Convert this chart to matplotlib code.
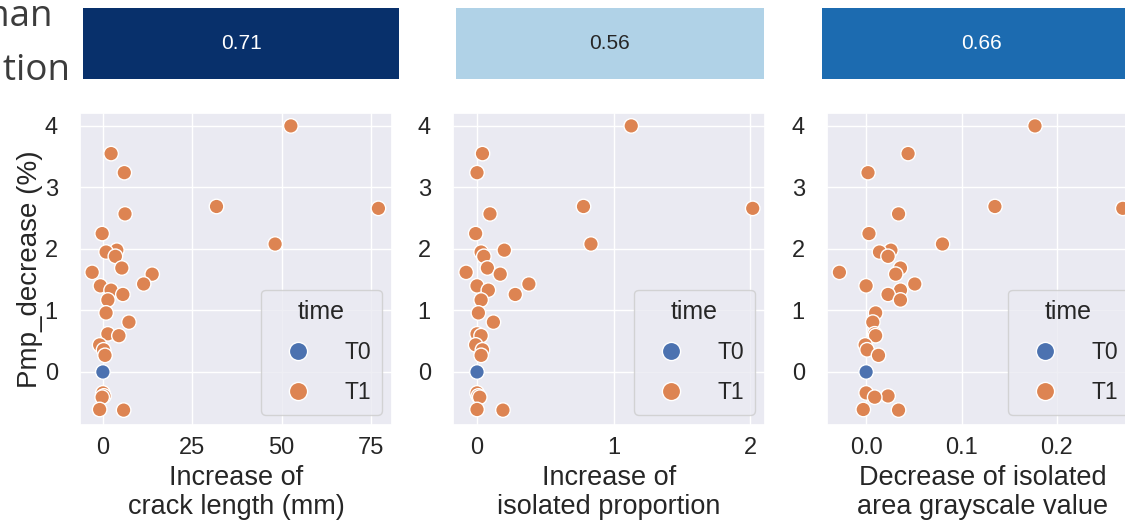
import matplotlib
matplotlib.use("Agg")
import matplotlib.pyplot as plt
import pandas as pd
import seaborn as sns

# Power loss of every module; the first entry is the T0 reference module
pmp_decrease = [0.00, 4.00, 3.55, 3.24, 2.69, 2.66, 2.57, 2.25, 2.08, 1.98, 1.95,
                1.88, 1.69, 1.62, 1.59, 1.43, 1.40, 1.33, 1.26, 1.17, 0.96, 0.81,
                0.62, 0.59, 0.44, 0.36, 0.27, -0.34, -0.39, -0.41, -0.61, -0.62]
crack_length = [0.0, 52.6, 2.3, 6.0, 31.8, 77.1, 6.2, -0.2, 48.2, 3.9, 0.9,
                3.5, 5.3, -3.0, 13.8, 11.4, -0.7, 2.3, 5.6, 1.4, 0.9, 7.3,
                1.4, 4.5, -0.9, 0.2, 0.6, 0.0, 0.3, -0.2, -0.9, 5.8]
isolated_proportion = [0.00, 1.13, 0.04, 0.00, 0.78, 2.02, 0.095, -0.01, 0.835, 0.20, 0.03,
                       0.05, 0.076, -0.08, 0.17, 0.38, 0.00, 0.083, 0.28, 0.03, 0.01, 0.12,
                       0.00, 0.03, -0.01, 0.04, 0.03, 0.00, 0.01, 0.02, 0.00, 0.19]
grayscale_decrease = [0.000, 0.177, 0.044, 0.002, 0.135, 0.269, 0.034, 0.003, 0.080, 0.026, 0.014,
                      0.023, 0.036, -0.028, 0.031, 0.051, 0.000, 0.036, 0.023, 0.036, 0.010, 0.007,
                      0.009, 0.010, -0.001, 0.001, 0.013, 0.000, 0.023, 0.009, -0.003, 0.034]
time = ["T0"] + ["T1"] * (len(pmp_decrease) - 1)

spearman = [0.71, 0.56, 0.66]
x_labels = ["Increase of\ncrack length (mm)",
            "Increase of\nisolated proportion",
            "Decrease of isolated\narea grayscale value"]
x_ticks = [[0, 25, 50, 75], [0, 1, 2], [0.0, 0.1, 0.2]]
x_limits = [(-6.4, 80.9), (-0.176, 2.11), (-0.041, 0.286)]
y_label = "Pmp_decrease (%)"

df = pd.DataFrame({
    "crack": crack_length,
    "isolated": isolated_proportion,
    "grayscale": grayscale_decrease,
    y_label: pmp_decrease,
    "time": time,
})
columns = ["crack", "isolated", "grayscale"]

# Layout in pixels (left, top, right, bottom)
FIG_W, FIG_H = 1125, 524
panel_boxes = [(80, 113, 392, 425), (453, 113, 765, 425), (827, 113, 1139, 425)]
bar_boxes = [(83, 8, 399, 79), (456, 8, 764, 79), (822, 8, 1140, 79)]


def px_box(left, top, right, bottom):
    return [left / FIG_W, 1 - bottom / FIG_H, (right - left) / FIG_W, (bottom - top) / FIG_H]


sns.set_theme(style="darkgrid")
plt.rcParams["font.family"] = ["Liberation Sans", "DejaVu Sans"]

fig = plt.figure(figsize=(FIG_W / 100, FIG_H / 100), dpi=100)

# Correlation row label
fig.text(53 / FIG_W, 1 - 26 / FIG_H, "Spearman", ha="right", va="baseline",
         fontsize=26.5, family="Open Sans", color="#3c3c3c")
fig.text(70 / FIG_W, 1 - 80 / FIG_H, "correlation", ha="right", va="baseline",
         fontsize=26.5, family="Open Sans", color="#3c3c3c")

for i, col in enumerate(columns):
    # Correlation cell above each panel
    bax = fig.add_axes(px_box(*bar_boxes[i]))
    sns.heatmap([[spearman[i]]], ax=bax, cmap="Blues", vmin=0.49, vmax=0.71,
                annot=True, fmt=".2f", cbar=False, xticklabels=False, yticklabels=False,
                annot_kws={"fontsize": 15})

    # Scatter panel
    ax = fig.add_axes(px_box(*panel_boxes[i]))
    sns.scatterplot(data=df, x=col, y=y_label, hue="time", s=110,
                    edgecolor="white", linewidth=1, ax=ax)
    ax.set_xlim(*x_limits[i])
    ax.set_ylim(-0.862, 4.21)
    ax.set_xticks(x_ticks[i])
    ax.set_yticks([0, 1, 2, 3, 4])
    ax.tick_params(labelsize=17)
    ax.tick_params(axis="x", pad=3)
    ax.tick_params(axis="y", pad=10)
    ax.set_xlabel(x_labels[i], fontsize=19.5, labelpad=4, linespacing=1.15)
    ax.set_ylabel(y_label if i == 0 else "", fontsize=20, labelpad=1)
    sns.move_legend(ax, "lower right", title="time", fontsize=16.5, title_fontsize=18,
                    markerscale=1.25, borderaxespad=0.45, borderpad=0.45,
                    handlelength=2.3, handletextpad=0.9, labelspacing=0.75)

fig.savefig("out.png", dpi=100)
